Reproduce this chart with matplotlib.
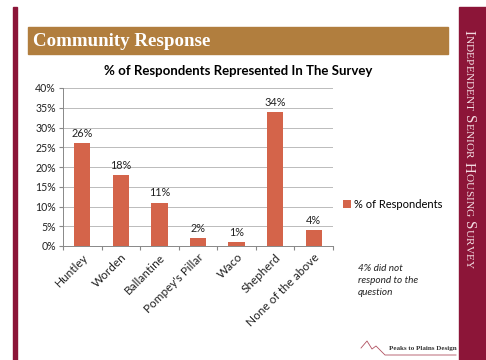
import numpy as np
import matplotlib.pyplot as plt
from matplotlib.patches import Rectangle
from matplotlib.lines import Line2D

communities = ["Huntley", "Worden", "Ballantine", "Pompey's Pillar",
               "Waco", "Shepherd", "None of the above"]
pct = [26, 18, 11, 2, 1, 34, 4]
yticks = [0, 5, 10, 15, 20, 25, 30, 35, 40]

W, H = 486, 360
crimson = "#8C1538"
gold = "#B17E3E"
bar_col = "#D4644A"

fig = plt.figure(figsize=(W / 100, H / 100), dpi=100)
fig.patch.set_facecolor("white")

def px(x, y):
    return x / W, 1 - y / H

# slide frame: left stripe, right panel, header banner
fig.patches.append(Rectangle(px(13, H), 4 / W, (H - 7) / H, transform=fig.transFigure,
                             color=crimson, zorder=0))
fig.patches.append(Rectangle(px(459, H), (W - 459) / W, (H - 7) / H, transform=fig.transFigure,
                             color=crimson, zorder=0))
fig.patches.append(Rectangle(px(28, 54), 420 / W, 27 / H, transform=fig.transFigure,
                             color=gold, zorder=0))
fig.text(*px(33, 41), "Community Response", family="Liberation Serif", weight="bold",
         fontsize=13.6, color="white", ha="left", va="center")

fig.text(*px(238, 71), "% of Respondents Represented In The Survey", family="Lato",
         weight="bold", fontsize=9.5, color="black", ha="center", va="center")

ax = fig.add_axes([63 / W, 1 - 246 / H, 270 / W, 158 / H])
x = np.arange(len(communities))
bars = ax.bar(x, pct, width=0.42, color=bar_col, zorder=3, label="% of Respondents")
for b, v in zip(bars, pct):
    ax.annotate(f"{v}%", (b.get_x() + b.get_width() / 2, v), xytext=(0, 3),
                textcoords="offset points", ha="center", va="bottom",
                family="Lato", fontsize=7.8, color="#222222")

ax.set_xlim(-0.5, len(communities) - 0.5)
ax.set_ylim(0, 40)
ax.set_yticks(yticks)
ax.set_yticklabels([f"{t}%" for t in yticks], family="Lato", fontsize=7.6, color="#222222")
ax.yaxis.grid(True, color="#BBBBBB", lw=0.7, zorder=0)
ax.set_xticks(np.arange(-0.5, len(communities)), minor=False)
ax.set_xticklabels([])
ax.set_xticks(x, minor=True)
ax.set_xticklabels(communities, minor=True, rotation=45, ha="right",
                   rotation_mode="anchor", family="Lato", fontsize=8.5, color="#222222")
ax.tick_params(axis="x", which="minor", length=0, pad=4)
ax.tick_params(axis="x", which="major", length=3, color="#888888", direction="out")
ax.tick_params(axis="y", length=3, color="#888888", pad=2)
for s in ["top", "right"]:
    ax.spines[s].set_visible(False)
for s in ["left", "bottom"]:
    ax.spines[s].set_color("#888888")
    ax.spines[s].set_linewidth(0.7)

ax.legend(loc="center left", bbox_to_anchor=(333 / W, 1 - 204 / H),
          bbox_transform=fig.transFigure, frameon=False, handlelength=0.7,
          handleheight=0.7, handletextpad=0.25, prop={"family": "Lato", "size": 8.0})

fig.text(*px(358, 264), "4% did not\nrespond to the\nquestion", family="Lato",
         style="italic", fontsize=7.2, color="#222222", ha="left", va="top",
         linespacing=1.4)

# logo: mountain line and name
mx = [361, 367, 372, 376, 385, 456]
my = [348, 341, 349, 346, 355, 355]
fig.lines.append(Line2D([px(a, b)[0] for a, b in zip(mx, my)],
                        [px(a, b)[1] for a, b in zip(mx, my)],
                        transform=fig.transFigure, color="#B05060", lw=0.6))
fig.text(*px(389, 351), "Peaks to Plains Design", family="Liberation Serif",
         weight="bold", fontsize=5, color="#333333", ha="left", va="bottom")

# vertical small-caps heading on the right panel
renderer = fig.canvas.get_renderer()
ycur = 30
for word in ["Independent", "Senior", "Housing", "Survey"]:
    for i, ch in enumerate(word.upper()):
        size = 10.6 if i == 0 else 8.2
        t = fig.text(*px(468, ycur), ch, family="Liberation Serif", fontsize=size,
                     color="#F3DCE2", rotation=-90, ha="center", va="top")
        ycur += t.get_window_extent(renderer).height
    ycur += 4.5

fig.savefig("out.png", dpi=100)
